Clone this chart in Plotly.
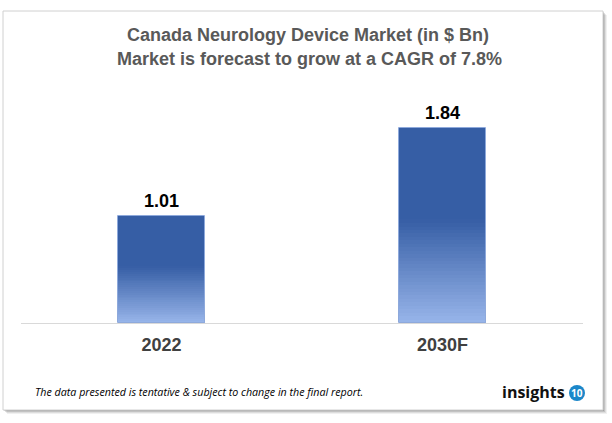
import plotly.graph_objects as go

# ---- data ----
categories = ["2022", "2030F"]
values = [1.01, 1.84]
value_labels = ["1.01", "1.84"]
title_line1 = "Canada Neurology Device Market (in $ Bn)"
title_line2 = "Market is forecast to grow at a CAGR of 7.8%"
footer_text = "The data presented is tentative & subject to change in the final report."

# ---- geometry helpers (pixel -> paper) ----
W, H = 612, 423
ML, MR, MT, MB = 21, 29, 111, 100
PW, PH = W - ML - MR, H - MT - MB


def px(x):
    return (x - ML) / PW


def py(y):
    return (H - MB - y) / PH


BAR_W = 0.31
TOP = (54, 94, 165)      # solid top colour
BOT = (152, 181, 234)    # light bottom colour
SOLID_FRAC = 0.53
N = 30

fig = go.Figure()

# base bar (solid top colour)
fig.add_trace(go.Bar(
    x=categories, y=values, width=BAR_W,
    marker=dict(color="rgb(%d,%d,%d)" % TOP, line=dict(width=0)),
    hoverinfo="skip", showlegend=False,
))

# gradient slices over the lower part of each bar
for i in range(N):
    lo = SOLID_FRAC * i / N
    hi = SOLID_FRAC * (i + 1) / N
    t = (i + 0.5) / N
    c = tuple(round(BOT[k] + (TOP[k] - BOT[k]) * t) for k in range(3))
    fig.add_trace(go.Bar(
        x=categories,
        base=[lo * v for v in values],
        y=[(hi - lo + 0.004) * v for v in values],
        width=BAR_W,
        marker=dict(color="rgb(%d,%d,%d)" % c, line=dict(width=0)),
        hoverinfo="skip", showlegend=False,
    ))

# thin light outline
fig.add_trace(go.Bar(
    x=categories, y=values, width=BAR_W,
    marker=dict(color="rgba(0,0,0,0)", line=dict(color="#8EA9DB", width=1)),
    hoverinfo="skip", showlegend=False,
))

annotations = []
for i, (v, lab) in enumerate(zip(values, value_labels)):
    annotations.append(dict(
        x=i, y=v, xref="x", yref="y", text="<b>%s</b>" % lab,
        showarrow=False, yanchor="bottom", yshift=3,
        font=dict(family="Liberation Sans, Arial", size=18, color="#000000"),
    ))

annotations += [
    dict(x=px(308), y=py(35), xref="paper", yref="paper", text="<b>%s</b>" % title_line1,
         showarrow=False, xanchor="center", yanchor="middle",
         font=dict(family="Liberation Sans, Arial", size=18, color="#595959")),
    dict(x=px(309), y=py(59), xref="paper", yref="paper", text="<b>%s</b>" % title_line2,
         showarrow=False, xanchor="center", yanchor="middle",
         font=dict(family="Liberation Sans, Arial", size=18, color="#595959")),
    dict(x=px(33), y=py(392), xref="paper", yref="paper", text="<i>%s</i>" % footer_text,
         showarrow=False, xanchor="left", yanchor="middle",
         font=dict(family="Open Sans", size=10.7, color="#000000")),
    dict(x=px(567), y=py(392), xref="paper", yref="paper", text="<b>insights</b>",
         showarrow=False, xanchor="right", yanchor="middle",
         font=dict(family="Open Sans", size=16, color="#111111")),
    dict(x=px(577), y=py(393), xref="paper", yref="paper", text="<b>10</b>",
         showarrow=False, xanchor="center", yanchor="middle",
         font=dict(family="Open Sans", size=10, color="#ffffff")),
]

shapes = []
# drop shadow
for k, a in [(4, 0.06), (3, 0.08), (2, 0.12), (1, 0.16)]:
    shapes.append(dict(type="rect", xref="paper", yref="paper", layer="below",
                       x0=px(3 + k), x1=px(603 + k), y0=py(410 + k), y1=py(11 + k),
                       line=dict(width=0), fillcolor="rgba(0,0,0,%g)" % a))
# frame
shapes.append(dict(type="rect", xref="paper", yref="paper", layer="below",
                   x0=px(3), x1=px(603), y0=py(410), y1=py(11),
                   line=dict(color="#D0D0D0", width=1), fillcolor="#ffffff"))
# logo circle
shapes.append(dict(type="circle", xref="paper", yref="paper",
                   x0=px(569), x1=px(585), y0=py(401), y1=py(385),
                   line=dict(width=0), fillcolor="#1B87C9"))

fig.update_layout(
    width=W, height=H,
    margin=dict(l=ML, r=MR, t=MT, b=MB),
    paper_bgcolor="#ffffff", plot_bgcolor="rgba(0,0,0,0)",
    barmode="overlay", bargap=0,
    showlegend=False,
    annotations=annotations, shapes=shapes,
    xaxis=dict(
        type="category", range=[-0.5, 1.5],
        showline=True, linecolor="#D9D9D9", linewidth=1,
        showgrid=False, ticks="", zeroline=False,
        tickfont=dict(family="Liberation Sans, Arial", size=18, color="#404040"),
        ticklabelstandoff=5,
        tickvals=categories, ticktext=["<b>%s</b>" % c for c in categories],
    ),
    yaxis=dict(range=[0, 2.0], visible=False, showgrid=False, zeroline=False),
)

fig.write_html("out.html", config={"displayModeBar": False},
               post_script="document.body.style.margin='0';document.body.style.overflow='hidden';")
